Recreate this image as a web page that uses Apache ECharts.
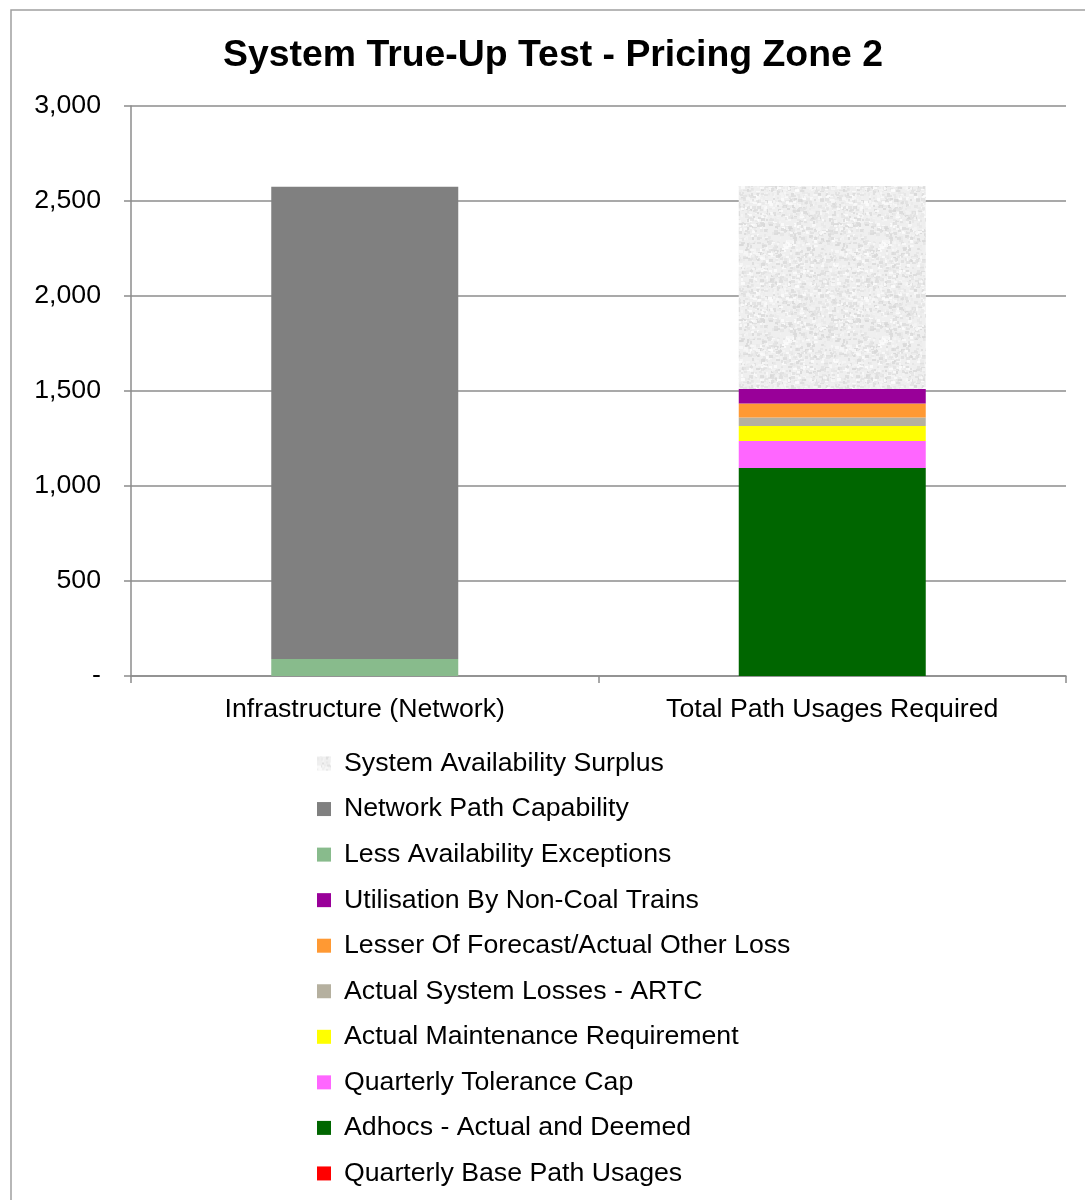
<!DOCTYPE html>
<html>
<head>
<meta charset="utf-8">
<script src="https://cdn.jsdelivr.net/npm/echarts@6/dist/echarts.min.js"></script>
<style>
html,body{margin:0;padding:0;background:#fff;}
#main{width:1085px;height:1200px;}
</style>
</head>
<body>
<div id="main"></div>
<script>
// Data
var categories = ['Infrastructure (Network)', 'Total Path Usages Required'];
var yTicks = [0, 500, 1000, 1500, 2000, 2500, 3000];

// stack order bottom -> top
var quarterlyBasePathUsages   = [0, 0];
var adhocsActualDeemed        = [0, 1095];
var quarterlyToleranceCap     = [0, 142];
var actualMaintenanceReq      = [0, 79];
var actualSystemLossesARTC    = [0, 44];
var lesserForecastActualOther = [0, 74];
var utilisationNonCoal        = [0, 77];
var lessAvailabilityExceptions= [90, 0];
var networkPathCapability     = [2485, 0];
var systemAvailabilitySurplus = [0, 1068];

var seriesNames = [
  'Quarterly Base Path Usages',
  'Adhocs - Actual and Deemed',
  'Quarterly Tolerance Cap',
  'Actual Maintenance Requirement',
  'Actual System Losses - ARTC',
  'Lesser Of Forecast/Actual Other Loss',
  'Utilisation By Non-Coal Trains',
  'Less Availability Exceptions',
  'Network Path Capability',
  'System Availability Surplus'
];
var seriesValues = [
  quarterlyBasePathUsages, adhocsActualDeemed, quarterlyToleranceCap,
  actualMaintenanceReq, actualSystemLossesARTC, lesserForecastActualOther,
  utilisationNonCoal, lessAvailabilityExceptions, networkPathCapability,
  systemAvailabilitySurplus
];

// texture for surplus (styling only)
function makeTexture() {
  var c = document.createElement('canvas');
  c.width = 96; c.height = 96;
  var ctx = c.getContext('2d');
  ctx.fillStyle = '#efefef';
  ctx.fillRect(0, 0, 96, 96);
  var s = 12345;
  function rnd() { s = (s * 1103515245 + 12345) & 0x7fffffff; return s / 0x7fffffff; }
  for (var i = 0; i < 1400; i++) {
    var x = Math.floor(rnd() * 96), y = Math.floor(rnd() * 96);
    var g = Math.floor(214 + rnd() * 40);
    ctx.fillStyle = 'rgba(' + g + ',' + g + ',' + g + ',0.8)';
    ctx.fillRect(x, y, 2 + Math.floor(rnd() * 3), 2 + Math.floor(rnd() * 2));
  }
  return c;
}
var texture = makeTexture();

var colors = [
  '#ff0000', '#006600', '#ff66ff', '#ffff00', '#b5b09f',
  '#ff9933', '#990099', '#88bb8c', '#808080',
  { image: texture, repeat: 'repeat' }
];

var font = 'Liberation Sans, Arial, sans-serif';
var fs = 26.7;
var chart = echarts.init(document.getElementById('main'));

var series = seriesNames.map(function (n, i) {
  return {
    name: n,
    type: 'bar',
    stack: 'total',
    barWidth: '40%',
    data: seriesValues[i],
    itemStyle: { color: colors[i] },
    emphasis: { disabled: true }
  };
});

chart.setOption({
  animation: false,
  backgroundColor: '#fff',
  title: {
    text: 'System True-Up Test - Pricing Zone 2',
    left: 548, top: 32, textAlign: 'center',
    textStyle: { fontFamily: font, fontSize: 37.4, fontWeight: 'bold', color: '#000' }
  },
  graphic: [{
    type: 'rect',
    shape: { x: 11, y: 10, width: 1200, height: 1300 },
    style: { fill: 'none', stroke: '#a0a0a0', lineWidth: 1.5 },
    silent: true
  }],
  grid: { left: 131, right: 19, top: 106, bottom: 524, containLabel: false },
  legend: {
    orient: 'vertical',
    left: 317, top: 750,
    width: 700, height: 500,
    padding: 0,
    data: seriesNames.slice().reverse(),
    itemWidth: 14, itemHeight: 14, itemGap: 18.55,
    icon: 'rect',
    textStyle: { fontFamily: font, fontSize: fs, color: '#000', lineHeight: 26, padding: [0, 0, 0, 8] },
    selectedMode: false
  },
  xAxis: {
    type: 'category',
    data: categories,
    axisLine: { lineStyle: { color: '#8c8c8c', width: 1.5 } },
    axisTick: { show: true, length: 7, lineStyle: { color: '#8c8c8c', width: 1.5 } },
    axisLabel: { fontFamily: font, fontSize: fs, color: '#000', margin: 20 }
  },
  yAxis: {
    type: 'value',
    min: yTicks[0], max: yTicks[yTicks.length - 1], interval: 500,
    axisLine: { show: true, lineStyle: { color: '#8c8c8c', width: 1.5 } },
    axisTick: { show: true, length: 7, lineStyle: { color: '#8c8c8c', width: 1.5 } },
    splitLine: { lineStyle: { color: '#8c8c8c', width: 1.5 } },
    axisLabel: {
      fontFamily: font, fontSize: fs, color: '#000', margin: 30, padding: [3, 0, 0, 0],
      formatter: function (v) { return v === 0 ? '-' : v.toLocaleString('en-US'); }
    }
  },
  series: series
});
</script>
</body>
</html>
